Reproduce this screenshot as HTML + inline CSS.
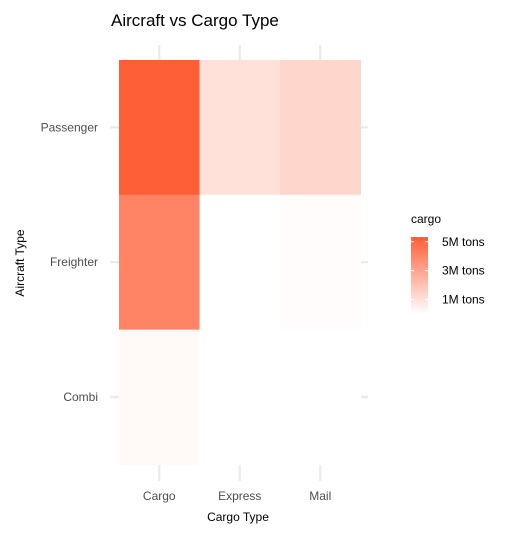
<!DOCTYPE html>
<html><head><meta charset="utf-8"><style>
body{margin:0;background:#fff;font-family:"Liberation Sans",Arial,sans-serif}
</style></head><body>
<svg width="518" height="538" xmlns="http://www.w3.org/2000/svg" font-family="Liberation Sans, Arial, sans-serif">
<defs><linearGradient id="lg" x1="0" y1="1" x2="0" y2="0">
<stop offset="0" stop-color="#ffffff"/><stop offset="1" stop-color="#ff5e36"/></linearGradient></defs>
<text x="111" y="26" font-size="17" fill="#000">Aircraft vs Cargo Type</text>
<g id="grid"></g>
<g id="tiles"></g>
<g id="labels"></g>
<text x="238" y="521" font-size="12" text-anchor="middle" fill="#000">Cargo Type</text>
<text transform="translate(24,263) rotate(-90)" font-size="12" text-anchor="middle" fill="#000">Aircraft Type</text>
<g>
<text x="411" y="223" font-size="12" fill="#000">cargo</text>
<rect x="411" y="237" width="17" height="77" fill="url(#lg)"/>
<g id="leg"></g>
</g>
</svg>
<script>
const xCats=["Cargo","Express","Mail"];
const yCats=["Passenger","Freighter","Combi"];
const values=[[5.3,1.0,1.35],[4.1,null,0.1],[0.2,null,null]];
const legendTicks=[1,3,5];
const legendLabels=["1M tons","3M tons","5M tons"];
const maxV=5.33;
const x0=119,cw=80.5,y0=60,rh=134.8;
const xs=i=>x0+i*cw, ys=j=>y0+j*rh;
const col=v=>{if(v==null)return '#ffffff';const t=Math.min(1,v/maxV);return `rgb(255,${Math.round(255-t*161)},${Math.round(255-t*201)})`;};
const ns="http://www.w3.org/2000/svg";
function mk(t,a,p){const e=document.createElementNS(ns,t);for(const k in a)e.setAttribute(k,a[k]);p.appendChild(e);return e;}
const grid=document.getElementById('grid'),tiles=document.getElementById('tiles'),labels=document.getElementById('labels'),leg=document.getElementById('leg');
xCats.forEach((c,i)=>{const l=mk('line',{x1:xs(i)+cw/2,x2:xs(i)+cw/2,y1:45,y2:481,stroke:'#ebebeb','stroke-width':2.2},grid);


const t=mk('text',{x:xs(i)+cw/2,y:500,'font-size':12,fill:'#4d4d4d','text-anchor':'middle'},labels);t.textContent=c;

});
yCats.forEach((c,j)=>{const l=mk('line',{x1:110,x2:368,y1:ys(j)+rh/2,y2:ys(j)+rh/2,stroke:'#ebebeb','stroke-width':2.2},grid);


const t=mk('text',{x:98,y:ys(j)+rh/2+4,'font-size':12,fill:'#4d4d4d','text-anchor':'end'},labels);t.textContent=c;

});
values.forEach((row,j)=>row.forEach((v,i)=>{
const r=mk('rect',{x:xs(i),y:ys(j),width:cw+0.5,height:rh+0.5,fill:col(v)},tiles);

}));
const ly=v=>314-v*(77/maxV);
legendTicks.forEach((v,k)=>{mk('line',{x1:411,x2:414,y1:ly(v),y2:ly(v),stroke:'#fff'},leg);mk('line',{x1:425,x2:428,y1:ly(v),y2:ly(v),stroke:'#fff'},leg);
const t=mk('text',{x:442,y:ly(v)+4,'font-size':12,fill:'#000'},leg);t.textContent=legendLabels[k];

});
</script>
</body></html>
